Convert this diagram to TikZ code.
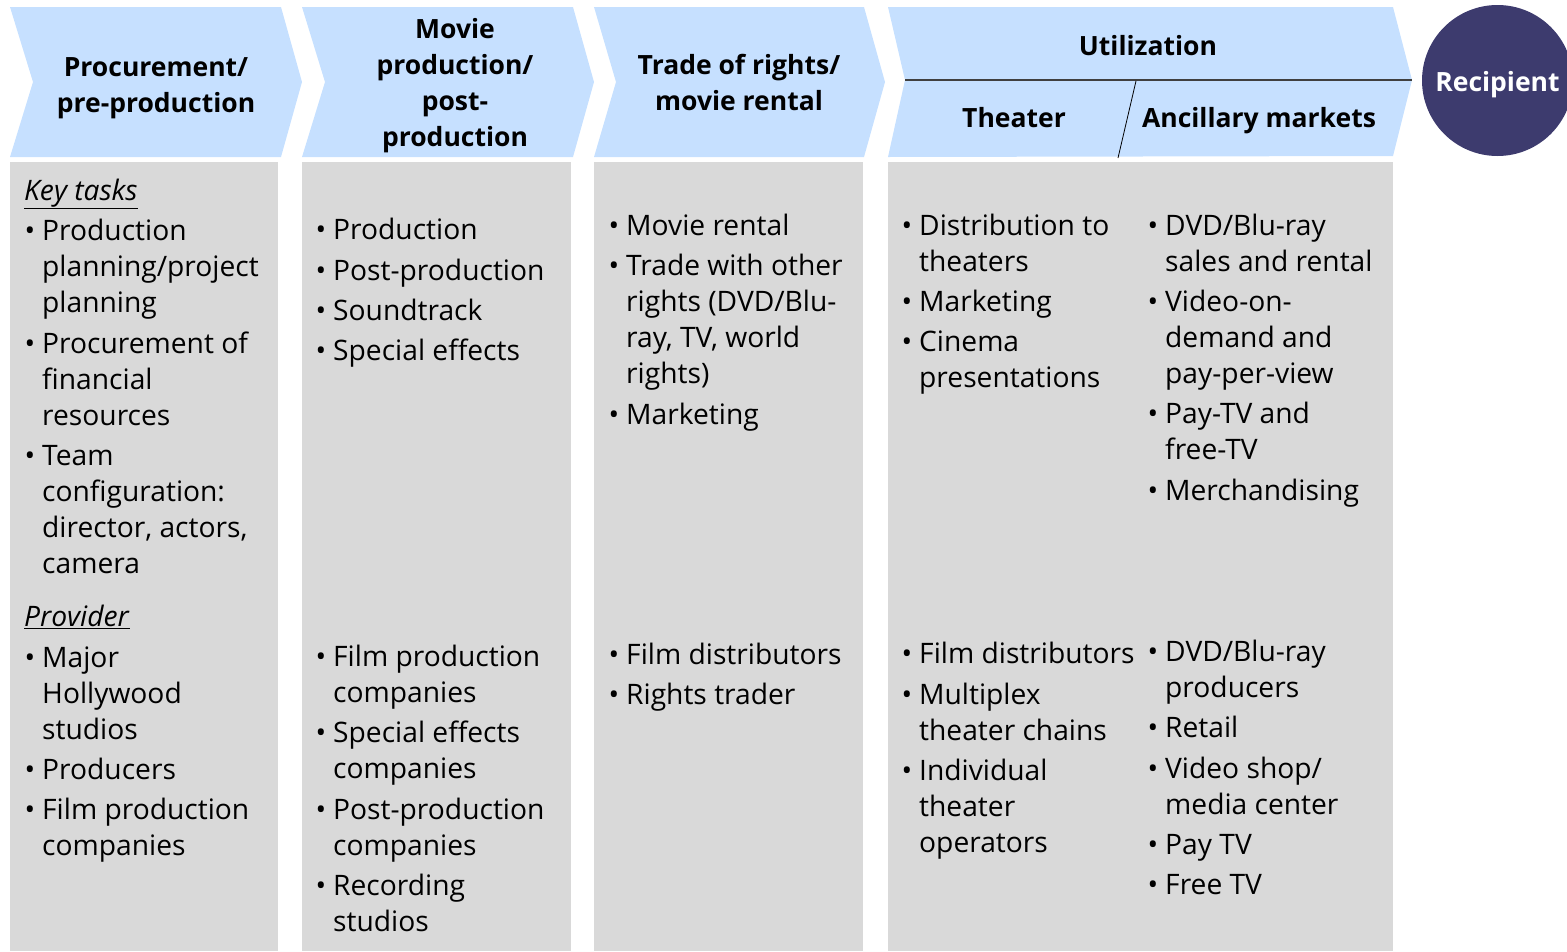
\documentclass[tikz,border=0pt]{standalone}
\usepackage{fontspec}
\setmainfont{Open Sans}
\definecolor{hdrblue}{RGB}{198,224,255}
\definecolor{colgrey}{RGB}{217,217,217}
\definecolor{navy}{RGB}{61,59,110}
\newcommand\bl{\makebox[0pt][r]{•\hspace{7pt}}}
\newcommand\fsz{\fontsize{26.5}{36}\selectfont}
\newcommand\fsb{\fontsize{28.2}{36}\selectfont}
\begin{document}
\begin{tikzpicture}[x=1pt,y=-1pt,
  hdr/.style={fill=hdrblue},
  col/.style={fill=colgrey},
  htxt/.style={font=\fsz\bfseries, align=center, inner sep=0pt},
  itm/.style={font=\fsb, align=left, anchor=north west, inner sep=0pt},
  sep/.style={draw=black!75, line width=1.3pt}]
\useasboundingbox (0,0) rectangle (1567,951);
% chevrons
\fill[hdr] (10,7) -- (281,7) -- (302,82) -- (281,157) -- (10,157) -- (33,82) -- cycle;
\fill[hdr] (302,7) -- (573,7) -- (594,82) -- (573,157) -- (302,157) -- (325,82) -- cycle;
\fill[hdr] (594,7) -- (864,7) -- (885,82) -- (864,157) -- (594,157) -- (616,82) -- cycle;
\fill[hdr] (888,7) -- (1393,7) -- (1412,80) -- (1393,156) -- (888,157) -- (905,80) -- cycle;
\coordinate (hl1) at (905,80);
\coordinate (hl2) at (1412,80);
\coordinate (sl1) at (1136,81);
\coordinate (sl2) at (1118,158);
\draw[sep] (hl1) -- (hl2);
\draw[line width=0.8pt] (sl1) -- (sl2);
% columns
\fill[col] (10,162) rectangle (278,951);
\fill[col] (302,162) rectangle (571,951);
\fill[col] (594,162) rectangle (863,951);
\fill[col] (888,162) rectangle (1393,951);
% recipient
\node[circle, fill=navy, minimum size=151pt, inner sep=0pt] (rec) at (1497.5,80.5) {};
\node[text=white, font=\fsz\bfseries, inner sep=0pt, anchor=base] (rect) at (1497.5,91) {Recipient};
% headers
\node[htxt] (h1) at (156,88) {Procurement/\\pre-production};
\node[htxt] (h2) at (455,86) {Movie\\production/\\post-\\production};
\node[htxt] (h3) at (739,82) {Trade of rights/\\movie rental};
\node[htxt, anchor=base] (h4) at (1148,55) {Utilization};
\node[htxt, anchor=base] (h5) at (1014,127) {Theater};
\node[htxt, anchor=base] (h6) at (1259,127) {Ancillary markets};
% column 1
\node[itm] (a0) at (24,175) {\strut\underline{\textit{Key tasks}}};
\node[itm] (a1) at (42,215) {\strut\bl Production\\planning/project\\planning};
\node[itm] (a2) at (42,328) {\strut\bl Procurement of\\financial\\resources};
\node[itm] (a3) at (42,440) {\strut\bl Team\\configuration:\\director, actors,\\camera};
\node[itm] (a4) at (24,601) {\strut\underline{\textit{Provider}}};
\node[itm] (a5) at (42,642) {\strut\bl Major\\Hollywood\\studios};
\node[itm] (a6) at (42,754) {\strut\bl Producers};
\node[itm] (a7) at (42,794) {\strut\bl Film production\\companies};
% column 2
\node[itm] (b1) at (333,214) {\strut\bl Production};
\node[itm] (b2) at (333,255) {\strut\bl Post-production};
\node[itm] (b3) at (333,295) {\strut\bl Soundtrack};
\node[itm] (b4) at (333,335) {\strut\bl Special effects};
\node[itm] (b5) at (333,641) {\strut\bl Film production\\companies};
\node[itm] (b6) at (333,717) {\strut\bl Special effects\\companies};
\node[itm] (b7) at (333,794) {\strut\bl Post-production\\companies};
\node[itm] (b8) at (333,870) {\strut\bl Recording\\studios};
% column 3
\node[itm] (c1) at (626,210) {\strut\bl Movie rental};
\node[itm] (c2) at (626,250) {\strut\bl Trade with other\\rights (DVD/Blu-\\ray, TV, world\\rights)};
\node[itm] (c3) at (626,399) {\strut\bl Marketing};
\node[itm] (c4) at (626,639) {\strut\bl Film distributors};
\node[itm] (c5) at (626,679) {\strut\bl Rights trader};
% column 4a
\node[itm] (d1) at (919,210) {\strut\bl Distribution to\\theaters};
\node[itm] (d2) at (919,286) {\strut\bl Marketing};
\node[itm] (d3) at (919,326) {\strut\bl Cinema\\presentations};
\node[itm] (d4) at (919,638) {\strut\bl Film distributors};
\node[itm] (d5) at (919,679) {\strut\bl Multiplex\\theater chains};
\node[itm] (d6) at (919,755) {\strut\bl Individual\\theater\\operators};
% column 4b
\node[itm] (e1) at (1165,210) {\strut\bl DVD/Blu-ray\\sales and rental};
\node[itm] (e2) at (1165,286) {\strut\bl Video-on-\\demand and\\pay-per-view};
\node[itm] (e3) at (1165,398) {\strut\bl Pay-TV and\\free-TV};
\node[itm] (e4) at (1165,475) {\strut\bl Merchandising};
\node[itm] (e5) at (1165,636) {\strut\bl DVD/Blu-ray\\producers};
\node[itm] (e6) at (1165,712) {\strut\bl Retail};
\node[itm] (e7) at (1165,753) {\strut\bl Video shop/\\media center};
\node[itm] (e8) at (1165,829) {\strut\bl Pay TV};
\node[itm] (e9) at (1165,869) {\strut\bl Free TV};
\end{tikzpicture}
\end{document}
